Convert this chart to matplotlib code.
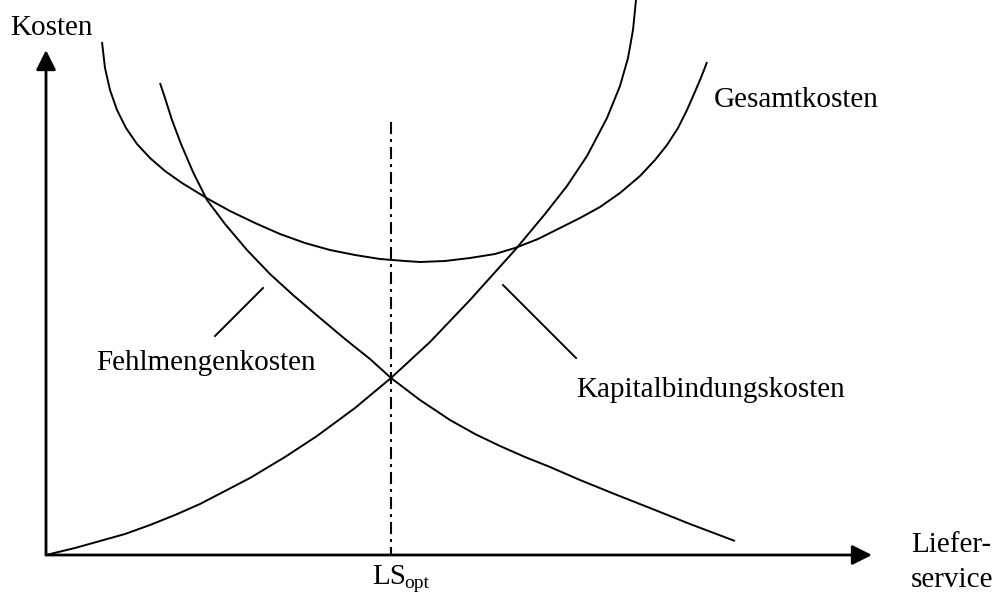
import matplotlib
matplotlib.use("Agg")
import matplotlib.pyplot as plt

# points (picture coordinates, y grows downwards)
gesamt_x = [102, 105, 110, 117, 126, 137, 150, 165, 182, 200, 210, 230, 255, 280, 305, 330,
            355, 380, 405, 420, 445, 470, 495, 515, 538, 560, 580, 600, 620, 640, 655, 667,
            678, 687, 694, 700, 704, 707]
gesamt_y = [42, 68, 90, 110, 128, 144, 158, 171, 183, 194, 200, 211, 223, 234, 243, 250,
            255, 259, 261, 262, 261, 258, 254, 248, 239, 228, 218, 207, 193, 176, 160, 145,
            128, 110, 94, 80, 70, 62]

fehl_x = [160, 165, 172, 181, 193, 207, 225, 247, 270, 293, 320, 345, 370, 391, 420, 450,
          475, 500, 525, 550, 580, 617, 650, 690, 735]
fehl_y = [83, 98, 120, 144, 172, 200, 224, 250, 274, 295, 318, 339, 359, 378, 400, 420,
          434, 446, 457, 467, 480, 495, 508, 524, 541]

kapital_x = [46, 75, 100, 125, 150, 175, 200, 225, 250, 285, 317, 355, 391, 430, 470, 515,
             545, 567, 587, 607, 620, 628, 633, 636]
kapital_y = [555, 548, 541, 534, 525, 515, 504, 491, 478, 457, 436, 408, 378, 342, 300, 250,
             214, 186, 156, 118, 86, 58, 30, 0]

ls_opt_x = 391
ls_opt_top = 122

origin = (46, 555)
x_tip = 872
y_tip = 50

plt.rcParams['font.family'] = ['Liberation Serif', 'DejaVu Serif']

fig = plt.figure(figsize=(10.06, 5.95), dpi=100)
ax = fig.add_axes([0, 0, 1, 1])
ax.set_xlim(0, 1006)
ax.set_ylim(595, 0)
ax.axis('off')

# axes with arrows
arrow = dict(arrowstyle='-|>,head_length=0.6,head_width=0.3', mutation_scale=20,
             lw=2, color='black', shrinkA=0, shrinkB=0)
ax.annotate('', xy=(origin[0], y_tip), xytext=origin, arrowprops=arrow)
ax.annotate('', xy=(x_tip, origin[1]), xytext=origin, arrowprops=arrow)

# curves
for xs, ys in [(gesamt_x, gesamt_y), (fehl_x, fehl_y), (kapital_x, kapital_y)]:
    ax.plot(xs, ys, color='black', lw=1.4, solid_capstyle='butt', solid_joinstyle='round')

# optimum line
ax.plot([ls_opt_x, ls_opt_x], [ls_opt_top, origin[1]], color='black', lw=1.5,
        linestyle=(0, (5.8, 2.4, 1.4, 2.4)))

# leader lines
ax.plot([263, 215], [288, 336], color='black', lw=1.4)
ax.plot([503, 576], [285, 358], color='black', lw=1.4)

fs = 21
ax.text(10, 35, 'Kosten', fontsize=fs, va='baseline')
ax.text(714, 107, 'Gesamtkosten', fontsize=fs, va='baseline')
ax.text(96, 370, 'Fehlmengenkosten', fontsize=fs, va='baseline')
ax.text(576, 397, 'Kapitalbindungskosten', fontsize=fs, va='baseline')
ax.text(911, 552, 'Liefer-', fontsize=fs, va='baseline')
ax.text(911, 587, 'service', fontsize=fs, va='baseline')
ax.text(372, 584, 'LS', fontsize=fs, va='baseline')
ax.text(404, 588, 'opt', fontsize=14, va='baseline')

fig.savefig('out.png', dpi=100, facecolor='white')
